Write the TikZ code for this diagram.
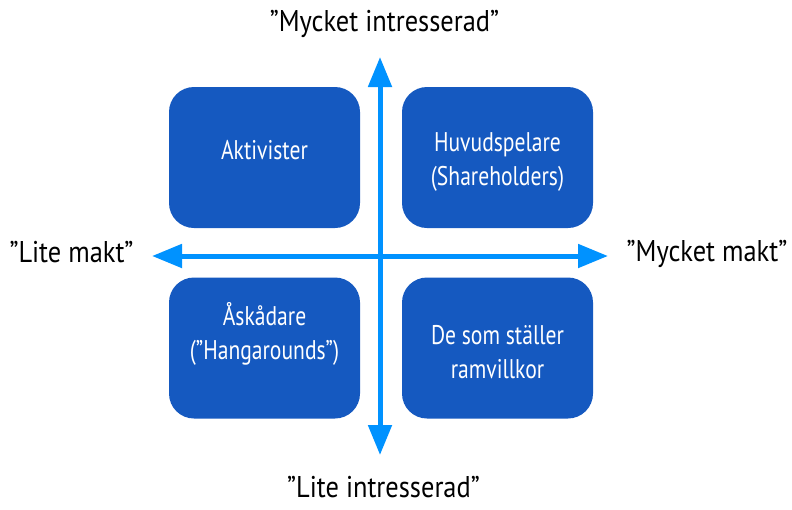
\documentclass[tikz,border=0pt]{standalone}
\usepackage{fontspec}
\setmainfont{PT Sans}[FakeStretch=0.8]
\newfontfamily\labelfont{PT Sans}[FakeStretch=0.88]
\usetikzlibrary{arrows.meta}
\definecolor{quadblue}{RGB}{21,89,192}
\definecolor{axisblue}{RGB}{0,146,255}
\begin{document}
\begin{tikzpicture}[x=1pt,y=-1pt]
        \tikzstyle{quad}=[rounded corners=25pt,fill=quadblue,minimum width=191pt,minimum height=141pt,inner sep=0pt]
        \tikzstyle{quadtext}=[text=white,align=center,font=\fontsize{27}{34}\selectfont,inner sep=0pt]
        \tikzstyle{axislabel}=[text=black,font=\labelfont\fontsize{30}{34}\selectfont,inner sep=0pt]
        \tikzstyle{axis}=[draw=axisblue,line width=5pt,{Triangle[length=30pt,width=23pt]}-{Triangle[length=30pt,width=23pt]}]

        \useasboundingbox (0,0) rectangle (792,509);

        % the four groups
        \node [quad] (akt) at (264.5,157.5) {};
        \node [quad] (huv) at (497.5,157.5) {};
        \node [quad] (ask) at (264.5,348) {};
        \node [quad] (ram) at (497.5,348) {};

        \node [quadtext] (akt-t) at (264.5,150) {Aktivister};
        \node [quadtext] (huv-t) at (497.5,162) {Huvudspelare\\(Shareholders)};
        \node [quadtext] (ask-t) at (264.5,334) {Åskådare\\(\symbol{34}Hangarounds\symbol{34})};
        \node [quadtext] (ram-t) at (497.5,352) {De som ställer\\ramvillkor};

        % axes
        \coordinate (west) at (152,256);
        \coordinate (east) at (608,256);
        \coordinate (north) at (380,57);
        \coordinate (south) at (380,455);
        \draw [axis] (west) -- (east);
        \draw [axis] (south) -- (north);

        \node [axislabel] (hi-int) at (384.5,24) {”Mycket intresserad”};
        \node [axislabel] (lo-int) at (383.5,487) {”Lite intresserad”};
        \node [axislabel] (lo-pow) at (71.5,252) {”Lite makt”};
        \node [axislabel] (hi-pow) at (707,254) {”Mycket makt”};
\end{tikzpicture}
\end{document}
